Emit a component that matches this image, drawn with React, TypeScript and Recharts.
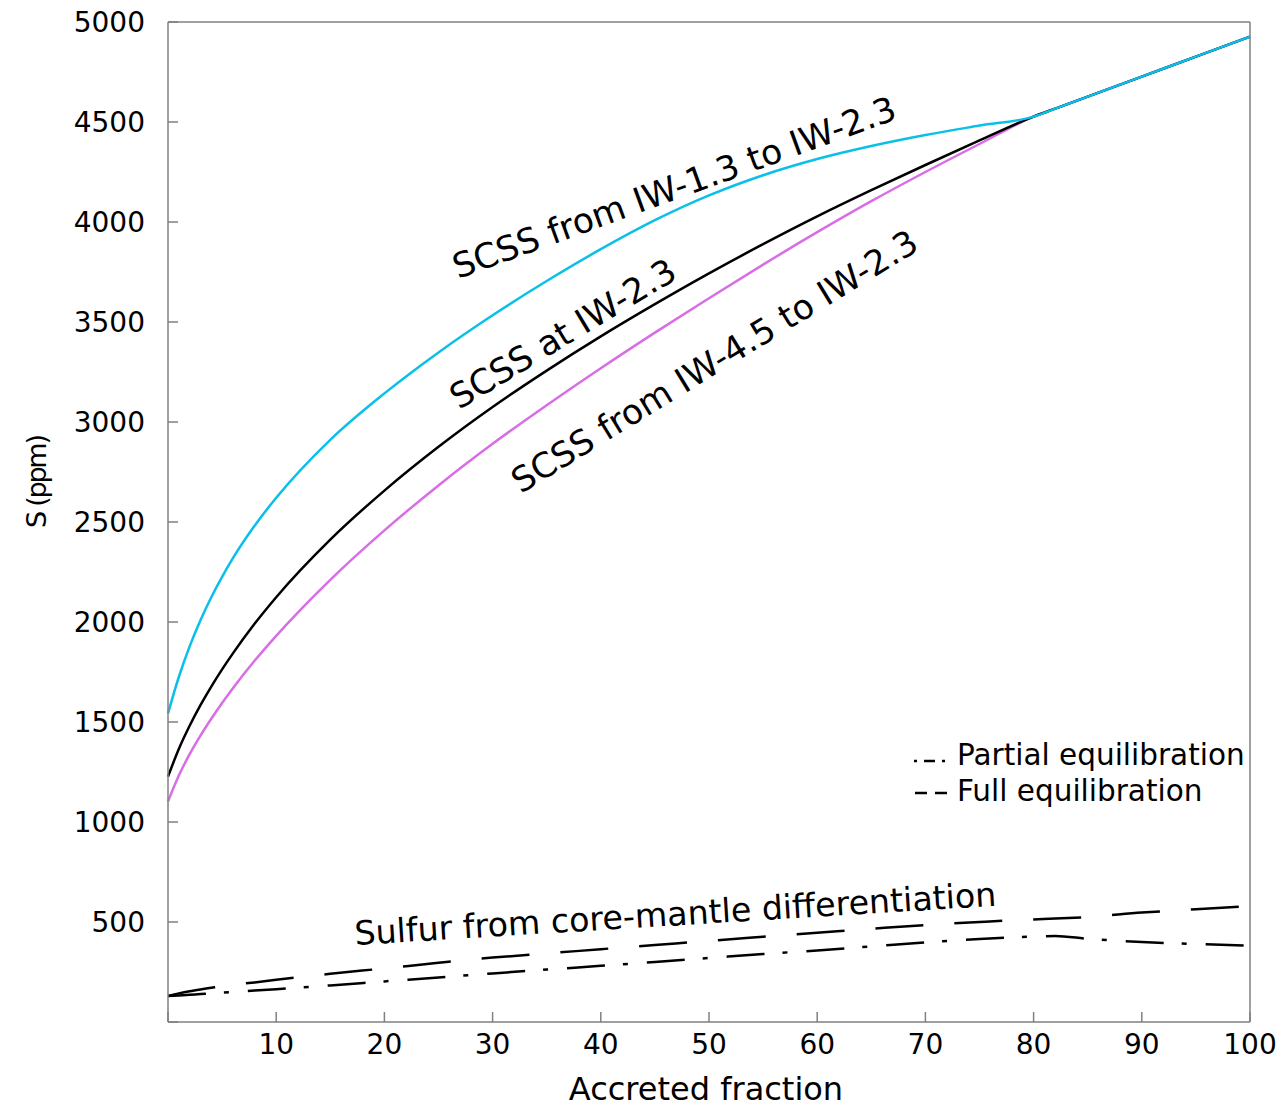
import { LineChart, Line, XAxis, YAxis, ReferenceDot, Legend } from 'recharts';

// accreted fraction sample points
const xValues = [0, 1, 2, 3, 4, 5, 6, 8, 10, 15, 20, 25, 30, 35, 40, 45, 50, 55, 60, 65, 70, 75, 80, 82, 85, 90, 95, 100];

// SCSS curves (ppm)
const scssFromIW13 = [1543, 1725, 1878, 2009, 2124, 2226, 2319, 2481, 2621, 2911, 3143, 3348, 3534, 3705, 3864, 4009, 4133, 4234, 4315, 4380, 4435, 4482, 4527, 4567, 4627, 4727, 4827, 4927];
const scssAtIW23 = [1227, 1365, 1481, 1584, 1677, 1763, 1843, 1991, 2124, 2412, 2657, 2876, 3075, 3257, 3428, 3589, 3743, 3889, 4028, 4159, 4285, 4408, 4527, 4567, 4627, 4727, 4827, 4927];
const scssFromIW45 = [1102, 1232, 1339, 1432, 1516, 1595, 1669, 1806, 1931, 2211, 2458, 2683, 2891, 3084, 3269, 3447, 3619, 3787, 3949, 4104, 4250, 4390, 4527, 4567, 4627, 4727, 4827, 4927];

// sulfur from core-mantle differentiation (ppm)
const fullEquil = [130, 143, 154, 163, 171, 179, 186, 198, 211, 241, 268, 296, 322, 343, 364, 385, 406, 426, 446, 466, 485, 500, 513, 517, 525, 547, 564, 580];
const partialEquil = [130, 133, 136, 140, 143, 147, 150, 157, 164, 183, 203, 223, 243, 262, 281, 300, 320, 340, 358, 378, 398, 415, 427, 430, 416, 400, 390, 382];

const xTicks = [0, 10, 20, 30, 40, 50, 60, 70, 80, 90, 100];
const yTicks = [0, 500, 1000, 1500, 2000, 2500, 3000, 3500, 4000, 4500, 5000];

const data = xValues.map((x, i) => ({
    x,
    iw13: scssFromIW13[i],
    iw23: scssAtIW23[i],
    iw45: scssFromIW45[i],
    full: fullEquil[i],
    partial: partialEquil[i],
}));

const FONT = '"DejaVu Sans", Verdana, sans-serif';
const AXIS = { stroke: '#808080', strokeWidth: 1.5 };

const hideZero = (v: number) => (v === 0 ? '' : String(v));

// rotated annotation text, anchored at a data point
const rotatedText = (text: string, angle: number, size: number) => (props: any) => {
    const { x, y } = props.viewBox;
    return (
        <text x={x} y={y} transform={`rotate(${angle}, ${x}, ${y})`} fontSize={size} fontFamily={FONT} fill="#000">
            {text}
        </text>
    );
};

const LegendBox = () => (
    <div style={{ fontFamily: FONT, fontSize: 29.5, color: '#000', position: 'relative', width: 370, height: 72 }}>
        <div style={{ position: 'absolute', left: 0, top: 0, height: 36, width: 370 }}>
            <svg width={52} height={36} style={{ position: 'absolute', left: 0, top: 0 }}>
                <line x1={9} x2={40} y1={24} y2={24} stroke="#000" strokeWidth={2.5} strokeDasharray="3 7 11 7 3 10" />
            </svg>
            <span style={{ position: 'absolute', left: 52, top: 0, lineHeight: '36px', whiteSpace: 'nowrap' }}>Partial equilibration</span>
        </div>
        <div style={{ position: 'absolute', left: 0, top: 36, height: 36, width: 370 }}>
            <svg width={52} height={36} style={{ position: 'absolute', left: 0, top: 0 }}>
                <line x1={10} x2={42} y1={20} y2={20} stroke="#000" strokeWidth={2.5} strokeDasharray="12 8" />
            </svg>
            <span style={{ position: 'absolute', left: 52, top: 0, lineHeight: '36px', whiteSpace: 'nowrap' }}>Full equilibration</span>
        </div>
    </div>
);

export default function App() {
    return (
        <div style={{ position: 'absolute', left: 0, top: 0, width: 1282, height: 1108, background: '#fff', fontFamily: FONT }}>
            <LineChart width={1282} height={1108} data={data} margin={{ top: 21, right: 31, bottom: 0, left: 8 }}>
                <XAxis
                    dataKey="x"
                    type="number"
                    domain={[0, 100]}
                    ticks={xTicks}
                    interval={0}
                    tickFormatter={hideZero}
                    height={86}
                    tickSize={-10}
                    tickMargin={22}
                    axisLine={AXIS}
                    tickLine={AXIS}
                    tick={{ fill: '#000', fontSize: 28, fontFamily: FONT }}
                    label={{
                        content: (p: any) => (
                            <text x={p.viewBox.x + p.viewBox.width / 2 - 3} y={p.viewBox.y + 78} textAnchor="middle" fontSize={32} fontFamily={FONT} fill="#000">
                                Accreted fraction
                            </text>
                        ),
                    }}
                />
                <XAxis
                    xAxisId="top"
                    orientation="top"
                    dataKey="x"
                    type="number"
                    domain={[0, 100]}
                    ticks={xTicks}
                    interval={0}
                    height={1}
                    tickSize={-10}
                    axisLine={AXIS}
                    tickLine={AXIS}
                    tick={false}
                />
                <YAxis
                    type="number"
                    domain={[0, 5000]}
                    ticks={yTicks}
                    interval={0}
                    tickFormatter={hideZero}
                    width={160}
                    tickSize={-10}
                    tickMargin={33}
                    axisLine={AXIS}
                    tickLine={AXIS}
                    tick={{ fill: '#000', fontSize: 28, fontFamily: FONT }}
                    label={{
                        content: (p: any) => {
                            const lx = p.viewBox.x + 38;
                            const ly = p.viewBox.y + p.viewBox.height / 2 - 41;
                            return (
                                <text x={lx} y={ly} transform={`rotate(-90, ${lx}, ${ly})`} textAnchor="middle" fontSize={27} textLength={94} lengthAdjust="spacing" fontFamily={FONT} fill="#000">
                                    S (ppm)
                                </text>
                            );
                        },
                    }}
                />
                <YAxis
                    yAxisId="right"
                    orientation="right"
                    type="number"
                    domain={[0, 5000]}
                    ticks={yTicks}
                    interval={0}
                    width={1}
                    tickSize={-10}
                    axisLine={AXIS}
                    tickLine={AXIS}
                    tick={false}
                />

                <Legend layout="horizontal" align="center" verticalAlign="middle" wrapperStyle={{ left: 905, top: 737, width: 370, height: 72 }} content={() => <LegendBox />} />

                <Line name="Partial equilibration" type="monotone" dataKey="partial" stroke="#000" strokeWidth={2.5} strokeDasharray="38 18 5 19" dot={false} activeDot={false} isAnimationActive={false} />
                <Line name="Full equilibration" type="monotone" dataKey="full" stroke="#000" strokeWidth={2.5} strokeDasharray="48 31" dot={false} activeDot={false} isAnimationActive={false} />
                <Line name="SCSS from IW-4.5 to IW-2.3" type="monotone" dataKey="iw45" stroke="#d86ee6" strokeWidth={2.5} dot={false} activeDot={false} isAnimationActive={false} />
                <Line name="SCSS at IW-2.3" type="monotone" dataKey="iw23" stroke="#000" strokeWidth={2.5} dot={false} activeDot={false} isAnimationActive={false} />
                <Line name="SCSS from IW-1.3 to IW-2.3" type="monotone" dataKey="iw13" stroke="#0ac0e8" strokeWidth={2.5} dot={false} activeDot={false} isAnimationActive={false} />

                <ReferenceDot x={26.8} y={3715} r={0} stroke="none" fill="none" ifOverflow="visible" label={{ content: rotatedText('SCSS from IW-1.3 to IW-2.3', -20, 34.5) }} />
                <ReferenceDot x={26.9} y={3060} r={0} stroke="none" fill="none" ifOverflow="visible" label={{ content: rotatedText('SCSS at IW-2.3', -31, 34.5) }} />
                <ReferenceDot x={32.6} y={2640} r={0} stroke="none" fill="none" ifOverflow="visible" label={{ content: rotatedText('SCSS from IW-4.5 to IW-2.3', -31.5, 34.5) }} />
                <ReferenceDot x={17.3} y={385} r={0} stroke="none" fill="none" ifOverflow="visible" label={{ content: rotatedText('Sulfur from core-mantle differentiation', -3.5, 33.3) }} />
            </LineChart>
        </div>
    );
}
